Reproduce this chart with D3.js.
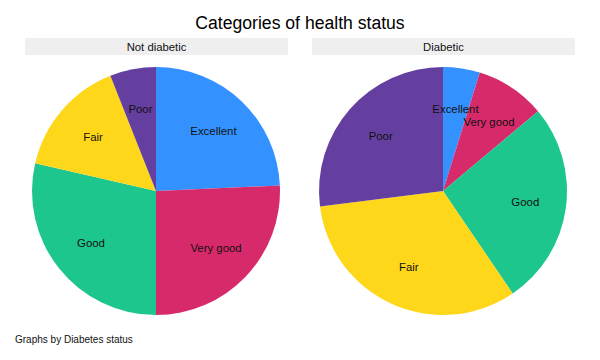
<!DOCTYPE html>
<html><head><meta charset="utf-8">
<script src="https://cdn.jsdelivr.net/npm/d3@7"></script>
<style>body{margin:0;background:#fff}svg{display:block}</style>
</head><body>
<script>
const categories = ["Excellent", "Very good", "Good", "Fair", "Poor"];
const groups = ["Not diabetic", "Diabetic"];
const notDiabetic = [24.3, 25.7, 28.6, 15.4, 6.0];
const diabetic = [4.8, 9.1, 26.6, 32.5, 27.0];
const colors = ["#3392ff", "#d72a6a", "#1cc68c", "#ffd71a", "#643fa0"];
const seriesValues = [notDiabetic, diabetic];

const W = 600, H = 360;
const svg = d3.select("body").append("svg").attr("width", W).attr("height", H);
const font = "Arial, 'Liberation Sans', sans-serif";

svg.append("text").attr("x", 300).attr("y", 29).attr("text-anchor", "middle")
  .attr("font-family", font).attr("font-size", 17.6).attr("fill", "#000")
  .text("Categories of health status");

const panelX = d3.scaleOrdinal().domain(groups).range([25, 312]);
const stripW = 263;
const color = d3.scaleOrdinal().domain(categories).range(colors);
const R = 124;
const pie = d3.pie().sort(null).value(d => d.v).startAngle(0).endAngle(2 * Math.PI);
const arc = d3.arc().innerRadius(0).outerRadius(R);
const labelArc = d3.arc().innerRadius(R * 0.67).outerRadius(R * 0.67);

groups.forEach((g, i) => {
  const x0 = panelX(g);
  svg.append("rect").attr("x", x0).attr("y", 38).attr("width", stripW).attr("height", 17)
    .attr("fill", "#efefef");
  svg.append("text").attr("x", x0 + stripW / 2).attr("y", 50.5).attr("text-anchor", "middle")
    .attr("font-family", font).attr("font-size", 11.3).attr("fill", "#111").text(g);
  const data = categories.map((c, j) => ({ c, v: seriesValues[i][j] }));
  const gp = svg.append("g").attr("transform", `translate(${x0 + stripW / 2 - 0.5},191)`);
  const arcs = pie(data);
  gp.selectAll("path").data(arcs).join("path").attr("d", arc).attr("fill", d => color(d.data.c));
  gp.selectAll("text").data(arcs).join("text")
    .attr("transform", d => `translate(${labelArc.centroid(d)})`)
    .attr("text-anchor", "middle").attr("dy", "0.35em")
    .attr("font-family", font).attr("font-size", 11.4).attr("fill", "#111")
    .text(d => d.data.c);
});

svg.append("text").attr("x", 15).attr("y", 343).attr("font-family", font)
  .attr("font-size", 10).attr("fill", "#111").text("Graphs by Diabetes status");
</script>
</body></html>
